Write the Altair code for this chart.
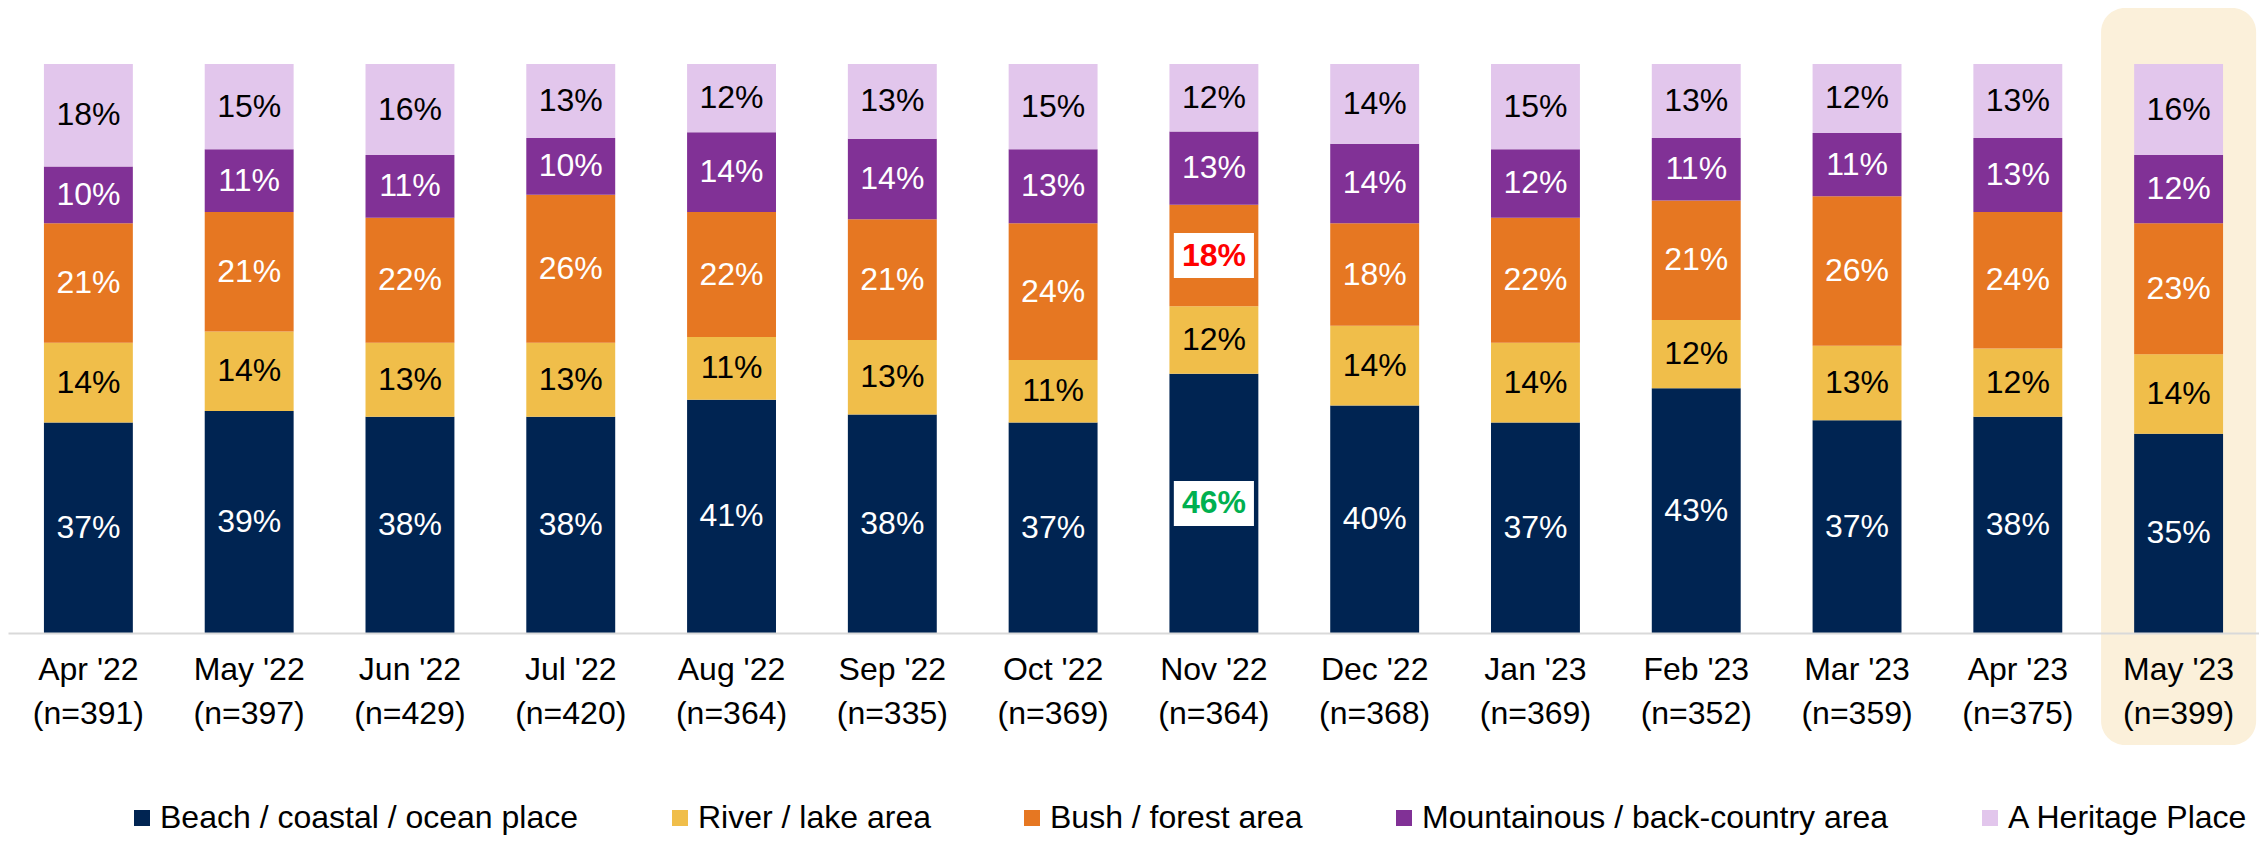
import altair as alt
import pandas as pd

months = ["Apr '22", "May '22", "Jun '22", "Jul '22", "Aug '22", "Sep '22", "Oct '22",
          "Nov '22", "Dec '22", "Jan '23", "Feb '23", "Mar '23", "Apr '23", "May '23"]
n_values = [391, 397, 429, 420, 364, 335, 369, 364, 368, 369, 352, 359, 375, 399]

categories = ["Beach / coastal / ocean place", "River / lake area", "Bush / forest area",
              "Mountainous / back-country area", "A Heritage Place"]
colors = ["#002452", "#F0BE4A", "#E67722", "#813196", "#E2C6EC"]
label_colors = ["white", "black", "white", "white", "black"]

beach = [37, 39, 38, 38, 41, 38, 37, 46, 40, 37, 43, 37, 38, 35]
river = [14, 14, 13, 13, 11, 13, 11, 12, 14, 14, 12, 13, 12, 14]
bush = [21, 21, 22, 26, 22, 21, 24, 18, 18, 22, 21, 26, 24, 23]
mountain = [10, 11, 11, 10, 14, 14, 13, 13, 14, 12, 11, 11, 13, 12]
heritage = [18, 15, 16, 13, 12, 13, 15, 12, 14, 15, 13, 12, 13, 16]
series = [beach, river, bush, mountain, heritage]

highlight_month = "May '23"
callout_month = "Nov '22"
callout_colors = {"Beach / coastal / ocean place": "#00B050", "Bush / forest area": "#FF0000"}

FONT = "Liberation Sans"

xlabels = [f"{m}|(n={n})" for m, n in zip(months, n_values)]
rows = []
for ci, (cat, vals) in enumerate(zip(categories, series)):
    for mi, v in enumerate(vals):
        special = months[mi] == callout_month and cat in callout_colors
        rows.append({
            "month": xlabels[mi],
            "category": cat,
            "order": ci,
            "value": v,
            "tcol": callout_colors[cat] if special else label_colors[ci],
            "special": special,
        })
df = pd.DataFrame(rows)

hl_df = pd.DataFrame({"month": [xlabels[months.index(highlight_month)]]})

xscale = alt.Scale(domain=xlabels, paddingInner=0.447, paddingOuter=0.2235)
yscale = alt.Scale(domain=[0, 1])

x_enc = alt.X("month:N", scale=xscale, sort=xlabels, title=None,
              axis=alt.Axis(labelExpr="split(datum.label, '|')", labelAngle=0,
                            labelFont=FONT, labelFontSize=32, labelColor="black",
                            labelLineHeight=44, labelPadding=21, ticks=False,
                            domainColor="#D9D9D9", domainWidth=2, labelBaseline="top",
                            zindex=1))

base = alt.Chart(df).transform_stack(
    stack="value", groupby=["month"], sort=[alt.SortField("order")],
    as_=["y0", "y1"], offset="normalize"
).transform_calculate(mid="(datum.y0 + datum.y1) / 2", lbl="datum.value + '%'")

highlight = alt.Chart(hl_df).mark_bar(
    color="#FBF0DA", cornerRadius=24, width=alt.RelativeBandSize(1.744)
).encode(x=x_enc, y=alt.value(-56), y2=alt.value(681))

bars = base.mark_bar().encode(
    x=x_enc,
    y=alt.Y("y0:Q", scale=yscale, axis=None),
    y2="y1:Q",
    color=alt.Color("category:N", scale=alt.Scale(domain=categories, range=colors),
                    legend=alt.Legend(title=None, orient="none", legendX=118, legendY=738,
                                      direction="horizontal", columns=5, columnPadding=85,
                                      symbolType="square", symbolSize=256, symbolStrokeWidth=0,
                                      labelFont=FONT, labelFontSize=32, labelColor="black",
                                      labelOffset=2, padding=0, labelLimit=1000)),
)

labels = base.transform_filter("!datum.special").mark_text(
    font=FONT, fontSize=32, align="center", baseline="middle"
).encode(x=x_enc, y=alt.Y("mid:Q", scale=yscale), text="lbl:N",
         color=alt.Color("tcol:N", scale=None))

boxes = base.transform_filter("datum.special").mark_point(
    shape="M-1.78,-1L1.78,-1L1.78,1L-1.78,1Z", size=2025, filled=True,
    color="white", opacity=1, strokeWidth=0
).encode(x=x_enc, y=alt.Y("mid:Q", scale=yscale))

special_labels = base.transform_filter("datum.special").mark_text(
    font=FONT, fontSize=32, fontWeight="bold", align="center", baseline="middle"
).encode(x=x_enc, y=alt.Y("mid:Q", scale=yscale), text="lbl:N",
         color=alt.Color("tcol:N", scale=None))

chart = alt.layer(highlight, bars, labels, boxes, special_labels).properties(
    width=2251, height=569,
    autosize=alt.AutoSizeParams(type="none"),
    padding={"left": 0, "top": 56, "right": 0, "bottom": 203},
).configure_view(stroke=None)

chart.save("out.html", embed_options={"renderer": "svg", "actions": False})
